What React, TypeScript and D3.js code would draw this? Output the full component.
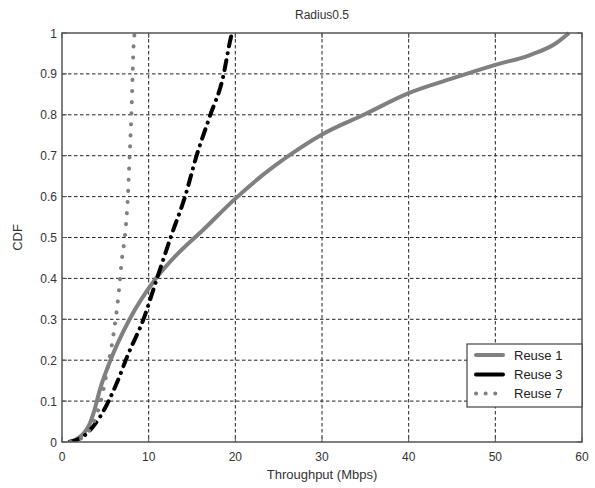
import React from "react";
import * as d3 from "d3";

const xTicks = [0, 10, 20, 30, 40, 50, 60];
const yTicks = [0, 0.1, 0.2, 0.3, 0.4, 0.5, 0.6, 0.7, 0.8, 0.9, 1];

const reuse1X = [0.7, 1.5, 2.45, 3.1, 3.7, 4.4, 5.5, 7.8, 10.7, 13.2, 16.3, 20, 23, 26.3, 30, 35, 40, 45.5, 50, 54, 57, 58.5];
const reuse1Y = [0, 0.005, 0.02, 0.04, 0.075, 0.13, 0.195, 0.3, 0.396, 0.457, 0.519, 0.595, 0.65, 0.702, 0.752, 0.802, 0.853, 0.892, 0.922, 0.946, 0.975, 1.0];

const reuse3X = [0.9, 2.65, 4.4, 6.3, 7.6, 9.4, 10.9, 12.7, 14.2, 15.5, 17.05, 18.6, 19.35, 19.6];
const reuse3Y = [0, 0.017, 0.062, 0.143, 0.213, 0.3, 0.396, 0.51, 0.6, 0.698, 0.796, 0.894, 0.976, 1.0];

const reuse7X = [1.0, 2.45, 3.6, 4.4, 5.15, 5.9, 6.5, 6.9, 7.25, 7.6, 7.8, 8.0, 8.3, 8.4];
const reuse7Y = [0, 0.013, 0.046, 0.094, 0.168, 0.258, 0.355, 0.445, 0.502, 0.6, 0.698, 0.796, 0.984, 1.0];

const seriesNames = ["Reuse 1", "Reuse 3", "Reuse 7"];

const W = 595, H = 488;
const L = 62, R = 582, T = 33, B = 442;
const FONT = "'Liberation Sans', Arial, Helvetica, sans-serif";

const styles = [
  { stroke: "#808080", width: 4, dash: undefined as string | undefined, cap: "butt" },
  { stroke: "#000000", width: 4, dash: "10 7 0.1 7", cap: "round" },
  { stroke: "#808080", width: 4, dash: "0.1 11", cap: "round" },
];

export default function App() {
  const x = d3.scaleLinear().domain([0, 60]).range([L, R]);
  const y = d3.scaleLinear().domain([0, 1]).range([B, T]);
  const line = d3
    .line<[number, number]>()
    .x((d) => x(d[0]))
    .y((d) => y(d[1]))
    .curve(d3.curveMonotoneX);

  const series = [
    d3.zip(reuse1X, reuse1Y) as [number, number][],
    d3.zip(reuse3X, reuse3Y) as [number, number][],
    d3.zip(reuse7X, reuse7Y) as [number, number][],
  ];

  const lgL = 467, lgT = 344, lgR = 582, lgB = 407;
  const rowY = [355, 374.5, 393.5];

  return (
    <svg
      width={W}
      height={H}
      style={{ position: "absolute", left: 0, top: 0, background: "#fff" }}
      fontFamily={FONT}
    >
      <rect x={0} y={0} width={W} height={H} fill="#fff" />
      <defs>
        <clipPath id="plotclip">
          <rect x={L} y={T - 3} width={R - L} height={B - T + 3} />
        </clipPath>
      </defs>
      {xTicks.slice(1, -1).map((t) => (
        <line key={"gx" + t} x1={x(t)} x2={x(t)} y1={T} y2={B} stroke="#222" strokeWidth={1} strokeDasharray="3.5 2.5" />
      ))}
      {yTicks.slice(1, -1).map((t) => (
        <line key={"gy" + t} x1={L} x2={R} y1={y(t)} y2={y(t)} stroke="#222" strokeWidth={1} strokeDasharray="3.5 2.5" />
      ))}
      {xTicks.map((t) => (
        <g key={"tx" + t}>
          <line x1={x(t)} x2={x(t)} y1={B} y2={B - 5} stroke="#555" />
          <line x1={x(t)} x2={x(t)} y1={T} y2={T + 5} stroke="#555" />
          <text x={x(t)} y={B + 19} textAnchor="middle" fontSize={12} fill="#333">
            {t}
          </text>
        </g>
      ))}
      {yTicks.map((t) => (
        <g key={"ty" + t}>
          <line x1={L} x2={L + 5} y1={y(t)} y2={y(t)} stroke="#555" />
          <line x1={R} x2={R - 5} y1={y(t)} y2={y(t)} stroke="#555" />
          <text x={57} y={y(t) + 4.5} textAnchor="end" fontSize={12} fill="#333">
            {String(t)}
          </text>
        </g>
      ))}
      <g clipPath="url(#plotclip)">
        {series.map((s, i) => (
          <path
            key={"s" + i}
            d={line(s) || ""}
            fill="none"
            stroke={styles[i].stroke}
            strokeWidth={styles[i].width}
            strokeDasharray={styles[i].dash}
            strokeLinecap={styles[i].cap as any}
            strokeLinejoin="round"
          />
        ))}
      </g>
      <rect x={L} y={T} width={R - L} height={B - T} fill="none" stroke="#555" strokeWidth={1.5} />
      <rect x={lgL} y={lgT} width={lgR - lgL} height={lgB - lgT} fill="#fff" stroke="#444" strokeWidth={1.2} />
      {seriesNames.map((n, i) => (
        <g key={"lg" + i}>
          <line
            x1={476}
            x2={503}
            y1={rowY[i]}
            y2={rowY[i]}
            stroke={styles[i].stroke}
            strokeWidth={styles[i].width}
            strokeDasharray={i === 2 ? "0.1 9.5" : undefined}
            strokeLinecap="round"
          />
          <text x={514} y={rowY[i] + 4.5} fontSize={13} fill="#222">
            {n}
          </text>
        </g>
      ))}
      <text x={(L + R) / 2} y={19} textAnchor="middle" fontSize={12} fill="#333">
        Radius0.5
      </text>
      <text x={(L + R) / 2} y={479} textAnchor="middle" fontSize={13} fill="#333">
        Throughput (Mbps)
      </text>
      <text transform={`translate(22, ${(T + B) / 2}) rotate(-90)`} textAnchor="middle" fontSize={13} fill="#333">
        CDF
      </text>
    </svg>
  );
}
